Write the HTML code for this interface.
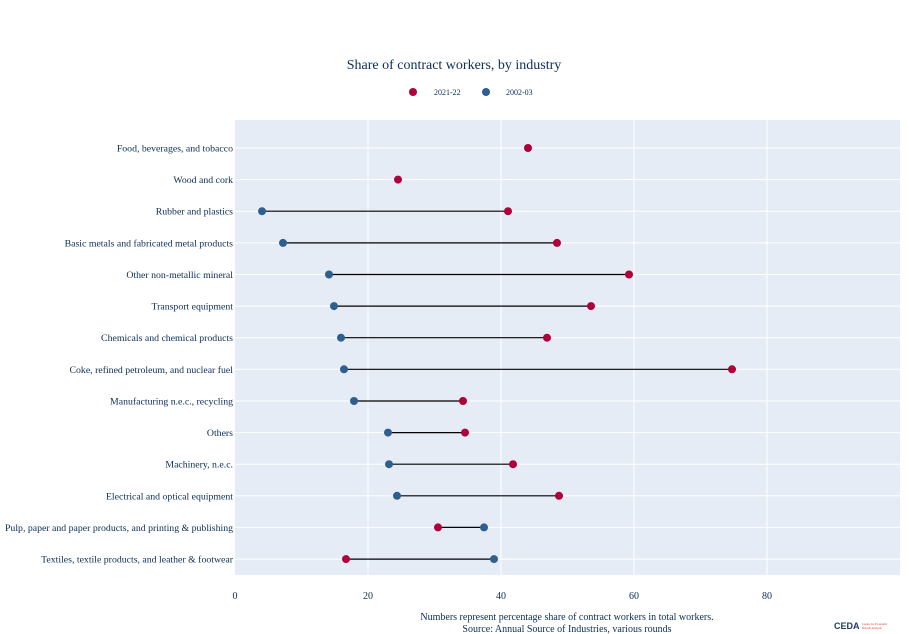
<!DOCTYPE html>
<html><head><meta charset="utf-8"><style>
body{margin:0;background:#fff;}
svg{display:block;font-family:"Liberation Serif",serif;}
</style></head><body>
<svg width="909" height="634" xmlns="http://www.w3.org/2000/svg">
<rect x="0" y="0" width="909" height="634" fill="#fff"/>
<rect x="235" y="120" width="665" height="455" fill="#e5ecf6"/>
<g stroke="#fff" stroke-width="1">
<line x1="368" y1="120" x2="368" y2="575"/>
<line x1="501" y1="120" x2="501" y2="575"/>
<line x1="634" y1="120" x2="634" y2="575"/>
<line x1="767" y1="120" x2="767" y2="575"/>
<line x1="235" x2="900" y1="148" y2="148"/>
<line x1="235" x2="900" y1="179.6" y2="179.6"/>
<line x1="235" x2="900" y1="211.2" y2="211.2"/>
<line x1="235" x2="900" y1="242.9" y2="242.9"/>
<line x1="235" x2="900" y1="274.5" y2="274.5"/>
<line x1="235" x2="900" y1="306.1" y2="306.1"/>
<line x1="235" x2="900" y1="337.7" y2="337.7"/>
<line x1="235" x2="900" y1="369.3" y2="369.3"/>
<line x1="235" x2="900" y1="401" y2="401"/>
<line x1="235" x2="900" y1="432.6" y2="432.6"/>
<line x1="235" x2="900" y1="464.2" y2="464.2"/>
<line x1="235" x2="900" y1="495.8" y2="495.8"/>
<line x1="235" x2="900" y1="527.4" y2="527.4"/>
<line x1="235" x2="900" y1="559.1" y2="559.1"/>
</g>
<g font-size="9.8" fill="#0b2d55" text-anchor="end">
<text x="233" y="151.5">Food, beverages, and tobacco</text>
<text x="233" y="183.1">Wood and cork</text>
<text x="233" y="214.7">Rubber and plastics</text>
<text x="233" y="246.4">Basic metals and fabricated metal products</text>
<text x="233" y="278">Other non-metallic mineral</text>
<text x="233" y="309.6">Transport equipment</text>
<text x="233" y="341.2">Chemicals and chemical products</text>
<text x="233" y="372.8">Coke, refined petroleum, and nuclear fuel</text>
<text x="233" y="404.5">Manufacturing n.e.c., recycling</text>
<text x="233" y="436.1">Others</text>
<text x="233" y="467.7">Machinery, n.e.c.</text>
<text x="233" y="499.3">Electrical and optical equipment</text>
<text x="233" y="530.9">Pulp, paper and paper products, and printing &amp; publishing</text>
<text x="233" y="562.6">Textiles, textile products, and leather &amp; footwear</text>
</g>
<g stroke="#000" stroke-width="1.2">
<line x1="262" x2="508" y1="211.2" y2="211.2"/>
<line x1="283" x2="557" y1="242.9" y2="242.9"/>
<line x1="329" x2="629" y1="274.5" y2="274.5"/>
<line x1="334" x2="591" y1="306.1" y2="306.1"/>
<line x1="341" x2="547" y1="337.7" y2="337.7"/>
<line x1="344" x2="732" y1="369.3" y2="369.3"/>
<line x1="354" x2="463" y1="401" y2="401"/>
<line x1="388" x2="465" y1="432.6" y2="432.6"/>
<line x1="389" x2="513" y1="464.2" y2="464.2"/>
<line x1="397" x2="559" y1="495.8" y2="495.8"/>
<line x1="438" x2="484" y1="527.4" y2="527.4"/>
<line x1="346" x2="494" y1="559.1" y2="559.1"/>
</g>
<g fill="#b0003a">
<circle cx="528" cy="148" r="4"/>
<circle cx="398" cy="179.6" r="4"/>
<circle cx="508" cy="211.2" r="4"/>
<circle cx="557" cy="242.9" r="4"/>
<circle cx="629" cy="274.5" r="4"/>
<circle cx="591" cy="306.1" r="4"/>
<circle cx="547" cy="337.7" r="4"/>
<circle cx="732" cy="369.3" r="4"/>
<circle cx="463" cy="401" r="4"/>
<circle cx="465" cy="432.6" r="4"/>
<circle cx="513" cy="464.2" r="4"/>
<circle cx="559" cy="495.8" r="4"/>
<circle cx="438" cy="527.4" r="4"/>
<circle cx="346" cy="559.1" r="4"/>
</g>
<g fill="#2e5f8f">
<circle cx="262" cy="211.2" r="4"/>
<circle cx="283" cy="242.9" r="4"/>
<circle cx="329" cy="274.5" r="4"/>
<circle cx="334" cy="306.1" r="4"/>
<circle cx="341" cy="337.7" r="4"/>
<circle cx="344" cy="369.3" r="4"/>
<circle cx="354" cy="401" r="4"/>
<circle cx="388" cy="432.6" r="4"/>
<circle cx="389" cy="464.2" r="4"/>
<circle cx="397" cy="495.8" r="4"/>
<circle cx="484" cy="527.4" r="4"/>
<circle cx="494" cy="559.1" r="4"/>
</g>
<text x="454" y="69" text-anchor="middle" font-size="14" fill="#0b2d55">Share of contract workers, by industry</text>
<circle cx="413" cy="92" r="4" fill="#b0003a"/>
<text x="434" y="95" font-size="8" fill="#0b2d55">2021-22</text>
<circle cx="486" cy="92" r="4" fill="#2e5f8f"/>
<text x="506" y="95" font-size="8" fill="#0b2d55">2002-03</text>
<g font-size="10" fill="#0b2d55" text-anchor="middle">
<text x="235" y="599">0</text><text x="368" y="599">20</text><text x="501" y="599">40</text><text x="634" y="599">60</text><text x="767" y="599">80</text>
</g>
<text x="567" y="620" text-anchor="middle" font-size="10" fill="#0b2d55">Numbers represent percentage share of contract workers in total workers.</text>
<text x="567" y="632" text-anchor="middle" font-size="10" fill="#0b2d55">Source: Annual Source of Industries, various rounds</text>
<text x="834" y="629" font-size="9" font-weight="bold" font-family="Liberation Sans,sans-serif" fill="#1f3a6b">CEDA</text>
<text x="862" y="625" font-size="3" fill="#d33">Centre for Economic</text>
<text x="862" y="629" font-size="3" fill="#d33">Data &amp; Analysis</text>
</svg>
</body></html>
